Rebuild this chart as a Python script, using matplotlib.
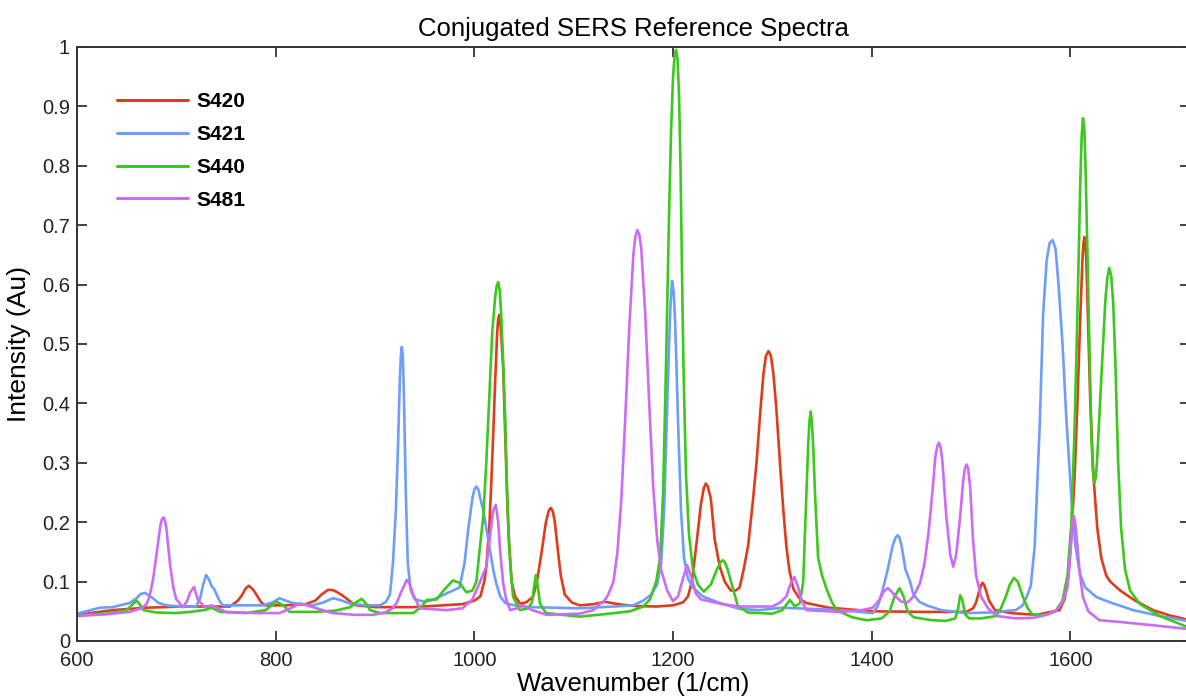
import matplotlib
matplotlib.use("Agg")
import matplotlib.pyplot as plt
import numpy as np

# (wavenumber, intensity) pairs for each reference spectrum
s420 = [(600, 0.044), (636, 0.052), (670, 0.056), (704, 0.058), (754, 0.058), (762, 0.068), (766, 0.077),
        (770, 0.089), (773, 0.093), (777, 0.087), (781, 0.077), (785, 0.066), (789, 0.06), (810, 0.06),
        (830, 0.062), (840, 0.068), (846, 0.078), (852.6, 0.086), (857, 0.086), (861, 0.083), (866, 0.078),
        (871, 0.072), (876, 0.065), (881.5, 0.06), (900, 0.057), (938, 0.057), (988, 0.062), (1000, 0.068),
        (1006, 0.075), (1010, 0.1), (1012, 0.125), (1015, 0.19), (1017, 0.265), (1019, 0.35), (1021, 0.44),
        (1023, 0.52), (1024, 0.542), (1025, 0.549), (1026, 0.54), (1027, 0.515), (1029, 0.46), (1031, 0.35),
        (1033, 0.24), (1035, 0.16), (1037.5, 0.1), (1041, 0.075), (1046, 0.063), (1052, 0.065), (1059, 0.074),
        (1063, 0.1), (1068, 0.153), (1072, 0.2), (1075, 0.22), (1077, 0.224), (1079, 0.218), (1081, 0.2),
        (1084, 0.153), (1087, 0.11), (1091, 0.078), (1098, 0.065), (1106, 0.06), (1120, 0.062), (1131, 0.066),
        (1145, 0.062), (1160, 0.059), (1183, 0.058), (1200, 0.06), (1210, 0.065), (1215, 0.075), (1219, 0.1),
        (1224, 0.17), (1228, 0.23), (1231, 0.258), (1233, 0.265), (1235, 0.26), (1238, 0.24), (1242, 0.17),
        (1247, 0.125), (1252, 0.1), (1258, 0.085), (1263, 0.085), (1267, 0.09), (1271, 0.12), (1275.5, 0.16),
        (1280, 0.23), (1284, 0.3), (1288, 0.39), (1291, 0.45), (1293.5, 0.48), (1296, 0.488), (1298.5, 0.48),
        (1301, 0.45), (1304, 0.39), (1308, 0.29), (1311, 0.22), (1314, 0.16), (1317, 0.12), (1321, 0.088),
        (1327, 0.072), (1334, 0.064), (1357, 0.056), (1401, 0.05), (1450, 0.049), (1495, 0.049), (1502, 0.055),
        (1505, 0.065), (1508, 0.083), (1510, 0.094), (1511.6, 0.098), (1513, 0.095), (1515, 0.085),
        (1518, 0.068), (1524, 0.052), (1540, 0.047), (1566, 0.044), (1589, 0.052), (1594, 0.07), (1598, 0.11),
        (1601, 0.18), (1604, 0.27), (1607, 0.4), (1610, 0.55), (1612, 0.64), (1613, 0.668), (1614, 0.68),
        (1615, 0.67), (1616, 0.64), (1618, 0.52), (1620, 0.4), (1623, 0.28), (1627, 0.19), (1631, 0.14),
        (1636, 0.11), (1640, 0.1), (1650, 0.085), (1665, 0.068), (1683, 0.052), (1700, 0.043), (1720, 0.035)]

s421 = [(600, 0.046), (623, 0.056), (636, 0.057), (653, 0.064), (660, 0.072), (664, 0.079), (668.5, 0.081),
        (672, 0.077), (676.5, 0.072), (682, 0.064), (690, 0.06), (705, 0.058), (720, 0.058), (724, 0.072),
        (727, 0.095), (730, 0.111), (733, 0.103), (735.6, 0.092), (738, 0.088), (740.6, 0.078), (744, 0.066),
        (747, 0.06), (787, 0.06), (797, 0.065), (804, 0.072), (810, 0.068), (817, 0.064), (837, 0.06),
        (848, 0.065), (857.7, 0.072), (865, 0.069), (874.8, 0.063), (890, 0.06), (905, 0.06), (911, 0.066),
        (915, 0.078), (918, 0.13), (921, 0.22), (923, 0.32), (925, 0.44), (926, 0.48), (927, 0.495),
        (928, 0.48), (929, 0.42), (931, 0.25), (933, 0.13), (936, 0.085), (940, 0.07), (950, 0.066),
        (958, 0.069), (972, 0.08), (985, 0.09), (990, 0.13), (994, 0.19), (998, 0.24), (1000, 0.255),
        (1002, 0.26), (1004, 0.255), (1006, 0.24), (1009, 0.22), (1013, 0.18), (1016, 0.15), (1019, 0.12),
        (1022, 0.097), (1026, 0.075), (1031, 0.064), (1040, 0.06), (1056, 0.057), (1106, 0.055), (1140, 0.058),
        (1160, 0.06), (1170, 0.068), (1178, 0.078), (1184, 0.095), (1188, 0.13), (1191, 0.22), (1194, 0.39),
        (1196, 0.5), (1197.5, 0.57), (1199, 0.606), (1200.5, 0.59), (1202, 0.54), (1203.5, 0.46),
        (1205, 0.37), (1208, 0.22), (1211, 0.14), (1215, 0.105), (1220, 0.09), (1230, 0.075), (1247, 0.064),
        (1267, 0.054), (1287, 0.052), (1310, 0.056), (1340, 0.054), (1368, 0.052), (1401, 0.047),
        (1406, 0.058), (1411, 0.086), (1416, 0.12), (1421, 0.16), (1424, 0.174), (1426, 0.178), (1428, 0.174),
        (1430, 0.16), (1434, 0.12), (1438.5, 0.1), (1442, 0.078), (1448, 0.066), (1455, 0.06), (1470, 0.052),
        (1495, 0.047), (1520, 0.048), (1545, 0.052), (1552, 0.06), (1556, 0.075), (1560, 0.092), (1564, 0.16),
        (1567, 0.28), (1569, 0.36), (1572.5, 0.55), (1576, 0.64), (1579, 0.67), (1582, 0.675), (1585, 0.66),
        (1588, 0.6), (1592, 0.5), (1596, 0.37), (1601, 0.24), (1605, 0.16), (1609.5, 0.113), (1615, 0.09),
        (1626, 0.074), (1640, 0.065), (1663, 0.052), (1690, 0.042), (1720, 0.033)]

s440 = [(600, 0.044), (630, 0.046), (650, 0.052), (655, 0.06), (660, 0.068), (663, 0.062), (667, 0.052),
        (680, 0.048), (700, 0.047), (714, 0.049), (728, 0.052), (735.6, 0.056), (744, 0.049), (770, 0.047),
        (790, 0.052), (796, 0.06), (801, 0.066), (807.7, 0.06), (814, 0.049), (840, 0.049), (860, 0.051),
        (875, 0.057), (881, 0.065), (886.5, 0.071), (891, 0.063), (895, 0.052), (905, 0.047), (938.5, 0.047),
        (947, 0.058), (952, 0.069), (962, 0.07), (970, 0.087), (978.5, 0.102), (985, 0.098), (992, 0.082),
        (998, 0.085), (1002, 0.1), (1005.6, 0.158), (1009, 0.21), (1012, 0.3), (1015.7, 0.434), (1018, 0.52),
        (1021, 0.58), (1022.5, 0.598), (1024, 0.604), (1025.5, 0.59), (1027, 0.55), (1029, 0.47),
        (1031, 0.377), (1033, 0.25), (1034.5, 0.18), (1037, 0.11), (1039, 0.074), (1046, 0.052), (1054, 0.055),
        (1058, 0.065), (1060, 0.09), (1062, 0.111), (1064, 0.09), (1066, 0.063), (1072, 0.047), (1106, 0.041),
        (1130, 0.045), (1156.6, 0.05), (1170, 0.058), (1176.7, 0.07), (1183, 0.1), (1187, 0.14), (1190, 0.25),
        (1193, 0.47), (1196, 0.72), (1198, 0.86), (1200, 0.95), (1201.5, 0.985), (1203, 0.995),
        (1204.5, 0.98), (1206, 0.92), (1207.5, 0.8), (1209, 0.62), (1210.5, 0.46), (1213, 0.28), (1216, 0.18),
        (1220, 0.12), (1225, 0.095), (1231, 0.083), (1238, 0.095), (1244, 0.12), (1248, 0.133), (1250, 0.136),
        (1252, 0.133), (1255, 0.12), (1260, 0.09), (1265, 0.06), (1275, 0.048), (1300, 0.046), (1310, 0.052),
        (1317.6, 0.069), (1322.7, 0.058), (1327.7, 0.064), (1331, 0.1), (1334, 0.24), (1336, 0.33),
        (1337.3, 0.37), (1338.5, 0.386), (1339.7, 0.37), (1341, 0.33), (1343, 0.243), (1346, 0.14),
        (1350, 0.11), (1355, 0.085), (1360, 0.065), (1365, 0.052), (1380, 0.04), (1395, 0.035), (1410, 0.038),
        (1418, 0.05), (1423, 0.075), (1428, 0.089), (1432, 0.075), (1436, 0.05), (1442, 0.04), (1460, 0.035),
        (1475, 0.034), (1484, 0.038), (1487, 0.055), (1489, 0.077), (1491, 0.07), (1494, 0.045), (1498, 0.038),
        (1510, 0.038), (1525, 0.042), (1530, 0.055), (1535, 0.075), (1539, 0.095), (1543, 0.106),
        (1547, 0.1), (1552, 0.075), (1557, 0.055), (1562, 0.044), (1575, 0.044), (1585, 0.05), (1592, 0.068),
        (1597, 0.11), (1601, 0.2), (1604, 0.35), (1607, 0.55), (1610, 0.78), (1611.3, 0.85), (1612.6, 0.88),
        (1614, 0.86), (1615.3, 0.79), (1617, 0.66), (1619, 0.5), (1621, 0.35), (1622.5, 0.29), (1624, 0.266),
        (1625.5, 0.275), (1627, 0.31), (1631, 0.44), (1635, 0.57), (1637, 0.61), (1639, 0.628), (1641, 0.615),
        (1643, 0.57), (1645, 0.48), (1648, 0.3), (1651, 0.19), (1655, 0.12), (1660, 0.085), (1670, 0.062),
        (1690, 0.042), (1720, 0.022)]

s481 = [(600, 0.042), (630, 0.045), (653, 0.049), (665, 0.055), (670, 0.062), (673, 0.075), (676.5, 0.103),
        (680, 0.145), (684, 0.195), (685.5, 0.205), (687, 0.208), (688.5, 0.203), (690, 0.19), (693.6, 0.13),
        (697, 0.09), (700, 0.07), (706.7, 0.057), (711, 0.068), (714, 0.082), (717.8, 0.091), (721.8, 0.069),
        (728.8, 0.057), (735, 0.06), (742, 0.055), (750, 0.049), (780, 0.047), (804, 0.047), (815, 0.055),
        (824.5, 0.063), (837.5, 0.057), (857, 0.047), (880, 0.044), (898, 0.044), (910, 0.048), (918, 0.055),
        (922, 0.065), (927, 0.085), (932, 0.103), (935, 0.095), (938, 0.08), (945, 0.055), (972, 0.052),
        (988, 0.055), (998, 0.07), (1005, 0.097), (1012, 0.125), (1016, 0.18), (1019, 0.22), (1021.5, 0.229),
        (1024, 0.2), (1026, 0.15), (1029, 0.097), (1032, 0.07), (1036, 0.052), (1043, 0.055), (1049, 0.06),
        (1058, 0.052), (1073, 0.044), (1106, 0.046), (1120, 0.052), (1126, 0.062), (1130, 0.066),
        (1134.5, 0.077), (1140, 0.1), (1144, 0.15), (1148, 0.24), (1152, 0.38), (1156, 0.53), (1160, 0.65),
        (1162, 0.68), (1164, 0.692), (1166, 0.684), (1168, 0.66), (1172, 0.55), (1176, 0.4), (1180, 0.26),
        (1184, 0.17), (1188, 0.12), (1194, 0.085), (1200, 0.067), (1205, 0.075), (1210, 0.105), (1214, 0.128),
        (1218, 0.11), (1223, 0.08), (1228, 0.07), (1250, 0.062), (1267, 0.058), (1300, 0.058), (1308, 0.065),
        (1314, 0.075), (1318, 0.095), (1322, 0.108), (1326, 0.09), (1329, 0.07), (1334, 0.052), (1368, 0.049),
        (1390, 0.052), (1401, 0.056), (1408, 0.07), (1412, 0.083), (1416, 0.089), (1420, 0.083), (1424, 0.075),
        (1430, 0.066), (1436, 0.065), (1442, 0.075), (1448.5, 0.097), (1453, 0.13), (1457, 0.18), (1461, 0.25),
        (1464, 0.31), (1466, 0.328), (1467.5, 0.334), (1469, 0.328), (1471, 0.305), (1475, 0.21),
        (1479, 0.145), (1482, 0.125), (1485, 0.145), (1489, 0.21), (1492, 0.27), (1494, 0.292),
        (1495.5, 0.297), (1497, 0.29), (1499, 0.26), (1502, 0.17), (1505, 0.11), (1510, 0.075), (1517, 0.055),
        (1526, 0.042), (1545, 0.038), (1563, 0.039), (1578, 0.045), (1586, 0.052), (1592, 0.065), (1597, 0.09),
        (1600, 0.15), (1602, 0.2), (1603.5, 0.21), (1605, 0.195), (1607, 0.16), (1609, 0.12), (1612.5, 0.074),
        (1618, 0.05), (1629, 0.035), (1650, 0.032), (1680, 0.027), (1720, 0.02)]

names = ["S420", "S421", "S440", "S481"]
colors = ["#e03c1c", "#6f9ef8", "#3cc81e", "#cc6cf5"]
x_ticks = [600, 800, 1000, 1200, 1400, 1600]
y_ticks = [0, 0.1, 0.2, 0.3, 0.4, 0.5, 0.6, 0.7, 0.8, 0.9, 1]
y_tick_labels = ["0", "0.1", "0.2", "0.3", "0.4", "0.5", "0.6", "0.7", "0.8", "0.9", "1"]

plt.rcParams["font.family"] = ["Liberation Sans", "DejaVu Sans"]

fig = plt.figure(figsize=(11.86, 7.0), dpi=100)
ax = fig.add_axes([0.0649, 0.0843, 0.9382, 0.8487])

for spec, name, col in zip([s420, s421, s440, s481], names, colors):
    arr = np.array(spec)
    ax.plot(arr[:, 0], arr[:, 1], color=col, lw=1.9, label=name,
            solid_joinstyle="round", solid_capstyle="round")

ax.set_xlim(600, 1720)
ax.set_ylim(0, 1)
ax.set_xticks(x_ticks)
ax.set_yticks(y_ticks)
ax.set_yticklabels(y_tick_labels)
ax.tick_params(direction="in", length=7.5, width=1.2, top=True, right=True,
               labelsize=14.5, colors="#222222", pad=5)
ax.tick_params(axis="x", pad=7)
for sp in ax.spines.values():
    sp.set_linewidth(1.4)
    sp.set_color("#333333")

ax.set_title("Conjugated SERS Reference Spectra", fontsize=18.5, pad=8)
ax.set_xlabel("Wavenumber (1/cm)", fontsize=18.5, labelpad=2)
ax.set_ylabel("Intensity (Au)", fontsize=19, labelpad=8)

leg = ax.legend(loc="upper left", bbox_to_anchor=(0.019, 0.955), frameon=False,
                prop={"weight": "bold", "size": 15}, handlelength=3.4,
                handletextpad=0.4, labelspacing=0.66)
for line in leg.get_lines():
    line.set_linewidth(2.2)

fig.savefig("out.png", dpi=100)
